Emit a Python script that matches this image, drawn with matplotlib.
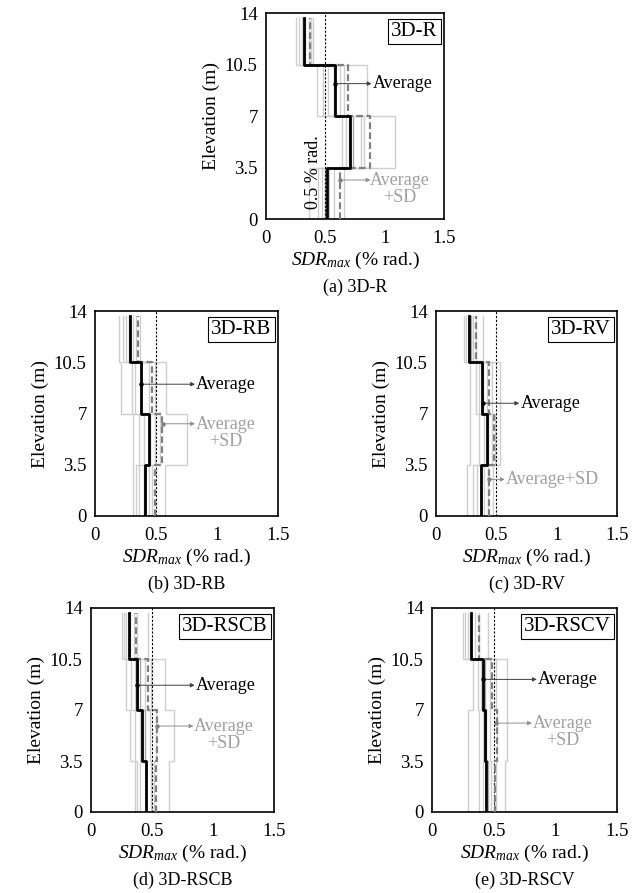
import numpy as np
import matplotlib
matplotlib.use("Agg")
import matplotlib.pyplot as plt

plt.rcParams['font.family'] = ['Liberation Serif', 'DejaVu Serif']
plt.rcParams['mathtext.fontset'] = 'custom'
plt.rcParams['mathtext.rm'] = 'Liberation Serif'
plt.rcParams['mathtext.it'] = 'Liberation Serif:italic'

# story boundaries (m)
levels = [0, 3.5, 7, 10.5, 13.65]

# individual records per panel, values per story (bottom -> top)
rec_a = [[0.36, 0.64, 0.43, 0.25], [0.44, 0.67, 0.48, 0.28], [0.47, 0.70, 0.52, 0.30],
         [0.50, 0.73, 0.57, 0.33], [0.53, 0.80, 0.62, 0.36], [0.57, 0.83, 0.66, 0.38],
         [0.66, 1.09, 0.85, 0.40]]
rec_b = [[0.31, 0.31, 0.21, 0.20], [0.34, 0.36, 0.30, 0.23], [0.36, 0.40, 0.33, 0.25],
         [0.40, 0.45, 0.38, 0.28], [0.44, 0.49, 0.44, 0.31], [0.47, 0.53, 0.49, 0.34],
         [0.57, 0.75, 0.58, 0.37]]
rec_c = [[0.26, 0.28, 0.28, 0.23], [0.31, 0.36, 0.33, 0.25], [0.34, 0.40, 0.36, 0.27],
         [0.37, 0.43, 0.39, 0.29], [0.40, 0.46, 0.42, 0.31], [0.43, 0.49, 0.46, 0.33],
         [0.47, 0.53, 0.53, 0.39]]
rec_d = [[0.36, 0.32, 0.29, 0.25], [0.38, 0.36, 0.33, 0.27], [0.40, 0.40, 0.36, 0.29],
         [0.45, 0.44, 0.40, 0.32], [0.49, 0.48, 0.44, 0.35], [0.52, 0.53, 0.49, 0.38],
         [0.64, 0.68, 0.61, 0.47]]
rec_e = [[0.29, 0.29, 0.33, 0.25], [0.38, 0.38, 0.37, 0.27], [0.41, 0.41, 0.40, 0.29],
         [0.45, 0.44, 0.43, 0.32], [0.48, 0.47, 0.47, 0.35], [0.52, 0.53, 0.52, 0.38],
         [0.59, 0.61, 0.61, 0.45]]

avg_a = [0.51, 0.71, 0.58, 0.32]
sd_a = [0.62, 0.88, 0.69, 0.37]
avg_b = [0.41, 0.44, 0.38, 0.29]
sd_b = [0.49, 0.55, 0.47, 0.35]
avg_c = [0.37, 0.42, 0.38, 0.27]
sd_c = [0.44, 0.48, 0.44, 0.33]
avg_d = [0.45, 0.42, 0.38, 0.31]
sd_d = [0.53, 0.54, 0.47, 0.37]
avg_e = [0.44, 0.43, 0.41, 0.32]
sd_e = [0.51, 0.53, 0.49, 0.38]

names = ['3D-R', '3D-RB', '3D-RV', '3D-RSCB', '3D-RSCV']
captions = ['(a) 3D-R', '(b) 3D-RB', '(c) 3D-RV', '(d) 3D-RSCB', '(e) 3D-RSCV']
xticks = [0, 0.5, 1, 1.5]
xticklabels = ['0', '0.5', '1', '1.5']
yticks = [0, 3.5, 7, 10.5, 14]
yticklabels = ['0', '3.5', '7', '10.5', '14']

W, H = 638, 893
# axes boxes in pixels: left, top, right, bottom
boxes = [(266, 13, 444, 219), (95, 311, 278, 516), (436, 311, 617, 516),
         (91, 608, 274, 812), (432, 608, 617, 812)]

# annotation: (avg start x, y, arrow end x), (sd start x, y, arrow end x), sd text
ann = [((0.58, 9.2, 0.89), (0.62, 2.65, 0.88), 'Average\n+SD'),
       ((0.38, 9.0, 0.82), (0.56, 6.3, 0.82), 'Average\n+SD'),
       ((0.39, 7.7, 0.69), (0.44, 2.5, 0.57), 'Average+SD'),
       ((0.38, 8.7, 0.85), (0.54, 5.9, 0.84), 'Average\n+SD'),
       ((0.41, 9.1, 0.85), (0.52, 6.1, 0.81), 'Average\n+SD')]

records = [rec_a, rec_b, rec_c, rec_d, rec_e]
avgs = [avg_a, avg_b, avg_c, avg_d, avg_e]
sds = [sd_a, sd_b, sd_c, sd_d, sd_e]

ylev = np.repeat(levels, 2)[1:-1]

fig = plt.figure(figsize=(W / 100, H / 100), dpi=100)

for k in range(5):
    l, t, r, b = boxes[k]
    ax = fig.add_axes([l / W, 1 - b / H, (r - l) / W, (b - t) / H])
    for i, rec in enumerate(records[k]):
        col = '#a8a8a8' if i == 3 else '#cfcfcf'
        ax.plot(np.repeat(rec, 2), ylev, color=col, lw=1.0, zorder=1)
    ax.plot([0.5, 0.5], [0, 14], color='black', lw=0.8, ls=(0, (2, 1.5)), zorder=2)
    ax.plot(np.repeat(sds[k], 2), ylev, color='#808080', lw=1.6, ls=(0, (3, 1.5)), zorder=3)
    ax.plot(np.repeat(avgs[k], 2), ylev, color='black', lw=2.0, zorder=4)

    (ax0, ay0, ax1), (sx0, sy0, sx1), sdtxt = ann[k]
    ax.annotate('', xy=(ax1, ay0), xytext=(ax0, ay0),
                arrowprops=dict(arrowstyle='-|>', color='#404040', lw=0.7,
                                mutation_scale=6, shrinkA=0, shrinkB=0), zorder=5)
    ax.plot(ax0, ay0, 'o', color='black', ms=2.2, zorder=6)
    ax.text(ax1 + 0.01, ay0, 'Average', fontsize=13, va='center', ha='left', color='black')
    ax.annotate('', xy=(sx1, sy0), xytext=(sx0, sy0),
                arrowprops=dict(arrowstyle='-|>', color='#909090', lw=0.7,
                                mutation_scale=6, shrinkA=0, shrinkB=0), zorder=5)
    ax.plot(sx0, sy0, 'o', color='#808080', ms=2.2, zorder=6)
    if '\n' in sdtxt:
        ax.text(sx1 + 0.25, sy0 - 0.6, sdtxt, fontsize=13, va='center', ha='center',
                color='#a0a0a0', linespacing=1.0)
    else:
        ax.text(sx1 + 0.01, sy0, sdtxt, fontsize=13, va='center', ha='left', color='#a0a0a0')

    ax.text(0.965, 0.955, names[k], transform=ax.transAxes, fontsize=15, ha='right', va='top',
            bbox=dict(boxstyle='square,pad=0.15', fc='white', ec='black', lw=0.8))
    if k == 0:
        ax.text(0.40, 3.2, '0.5 % rad.', rotation=90, fontsize=13, ha='center', va='center')

    ax.set_xlim(0, 1.5)
    ax.set_ylim(0, 14)
    ax.set_xticks(xticks)
    ax.set_xticklabels(xticklabels)
    ax.set_yticks(yticks)
    ax.set_yticklabels(yticklabels)
    ax.tick_params(axis='y', length=0, labelsize=13.5, pad=6)
    ax.tick_params(axis='x', length=0, labelsize=13.5, pad=8)
    for s in ax.spines.values():
        s.set_linewidth(1.2)
    ax.set_xlabel(r'$SDR_{max}$ (% rad.)', fontsize=14, labelpad=2)
    ax.set_ylabel('Elevation (m)', fontsize=14)
    ax.yaxis.set_label_coords(-46 / (r - l), 0.5)
    fig.text((l + r) / 2 / W, 1 - (b + 68) / H, captions[k], fontsize=13,
             ha='center', va='center')

fig.savefig('out.png', dpi=100)
